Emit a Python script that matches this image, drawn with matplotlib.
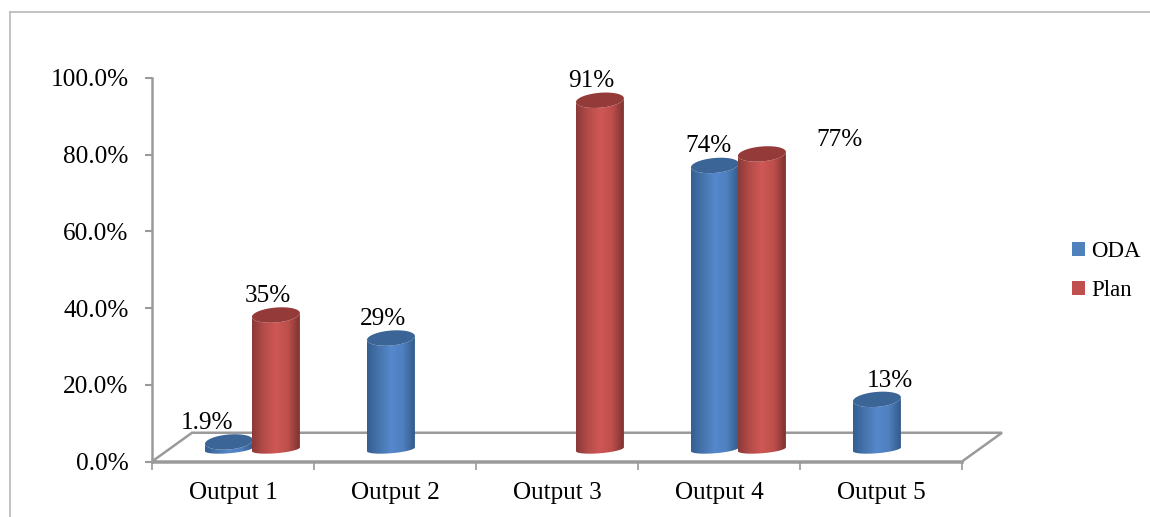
import numpy as np
import matplotlib
matplotlib.use("Agg")
import matplotlib.pyplot as plt
from matplotlib.colors import LinearSegmentedColormap
from matplotlib.lines import Line2D
from matplotlib.patches import PathPatch, Patch, Polygon
from matplotlib.path import Path

categories = ["Output 1", "Output 2", "Output 3", "Output 4", "Output 5"]
oda_values = [1.9, 29, None, 74, 13]
plan_values = [35, None, 91, 77, None]
oda_labels = ["1.9%", "29%", None, "74%", "13%"]
plan_labels = ["35%", None, "91%", "77%", None]
y_ticks = [0, 20, 40, 60, 80, 100]

plt.rcParams["font.family"] = ["Liberation Serif", "DejaVu Serif"]

W, H = 1150, 517
fig = plt.figure(figsize=(W / 100, H / 100), dpi=100, facecolor="white")
ax = fig.add_axes([152 / W, 1 - 461.5 / H, 810 / W, 383.5 / H])
ax.set_facecolor("none")
ax.set_xlim(0, 5)
ax.set_ylim(0, 100)

AXIS_GREY = "#9a9a9a"
FONT = 18.2

# Outer chart frame
fig.add_artist(Line2D([9.5 / W, 9.5 / W], [0, 1 - 11.5 / H], color="#b8b8b8", lw=1.2))
fig.add_artist(Line2D([9.5 / W, 1], [1 - 11.5 / H, 1 - 11.5 / H], color="#b8b8b8", lw=1.2))

# Axes and ticks
for side in ("top", "right"):
    ax.spines[side].set_visible(False)
for side in ("left", "bottom"):
    ax.spines[side].set_color(AXIS_GREY)
    ax.spines[side].set_linewidth(1.8)
ax.set_yticks(y_ticks)
ax.set_yticklabels([f"{t:.1f}%" for t in y_ticks], fontsize=FONT, color="black")
ax.set_xticks(range(6))
ax.set_xticklabels([])
ax.set_xticks([i + 0.5 for i in range(5)], minor=True)
ax.set_xticklabels(categories, minor=True, fontsize=FONT, color="black")
ax.tick_params(axis="y", length=5, width=1.5, color=AXIS_GREY, pad=12)
ax.tick_params(axis="x", which="major", length=6, width=1.2, color=AXIS_GREY)
ax.tick_params(axis="x", which="minor", length=0, pad=15)

# Slanted floor behind the columns
floor_dx, floor_dy = 0.247, 7.5
floor = Polygon(
    [(0, 0), (floor_dx, floor_dy), (5 + floor_dx, floor_dy), (5, 0)],
    closed=True, fill=False, edgecolor=AXIS_GREY, lw=1.8, clip_on=False, zorder=1,
)
ax.add_patch(floor)

# Column geometry
half_width = 0.148
base_level = 3.2
top_height = 1.95
top_tilt = 0.5
base_height = 1.05
base_tilt = 0.5
ODA_OFFSET, PLAN_OFFSET = 0.475, 0.765

blue_map = LinearSegmentedColormap.from_list(
    "blue_col", ["#335f92", "#4674ad", "#5588cc", "#4f80bf", "#325b8c"])
red_map = LinearSegmentedColormap.from_list(
    "red_col", ["#8a3a38", "#b54c49", "#cf5856", "#bd4f4c", "#7f3331"])


def rim(cx, cy, t, height, tilt):
    x = cx + half_width * np.cos(t)
    y = cy + height * np.sin(t) + tilt * np.cos(t)
    return x, y


def draw_column(cx, value, cmap, cap_color, z):
    top = base_level + value
    # Body outline: lower half of the base rim, then the far side of the top rim
    t_low = np.linspace(np.pi, 2 * np.pi, 40)
    x_low, y_low = rim(cx, base_level, t_low, base_height, base_tilt)
    t_up = np.linspace(0, -np.pi, 40)
    x_up, y_up = rim(cx, top, t_up, top_height, top_tilt)
    verts = np.column_stack([np.r_[x_low, x_up], np.r_[y_low, y_up]])
    verts = np.vstack([verts, verts[0]])
    body = PathPatch(Path(verts, closed=True), transform=ax.transData,
                     facecolor="none", edgecolor="none")
    ax.add_patch(body)
    gradient = np.linspace(0, 1, 128).reshape(1, -1)
    image = ax.imshow(
        gradient, cmap=cmap, aspect="auto", zorder=z, interpolation="bilinear",
        extent=(cx - half_width, cx + half_width, base_level - 3, top + 3),
    )
    image.set_clip_path(body)
    t_cap = np.linspace(0, 2 * np.pi, 80)
    x_cap, y_cap = rim(cx, top, t_cap, top_height, top_tilt)
    ax.fill(x_cap, y_cap, color=cap_color, lw=0, zorder=z + 0.1, clip_on=False)


for i in range(len(categories)):
    if oda_values[i] is not None:
        draw_column(i + ODA_OFFSET, oda_values[i], blue_map, "#3a6596", 3)
    if plan_values[i] is not None:
        draw_column(i + PLAN_OFFSET, plan_values[i], red_map, "#943b39", 4)

ax.set_xlim(0, 5)
ax.set_ylim(0, 100)

# Value labels; offsets are in points from the top of each column
oda_label_offsets = [(-16, 5.5), (-6, 6), None, (-5, 6), (9.5, 5.5)]
plan_label_offsets = [(-6, 6), None, (-6, 6), (56, 2), None]
for i in range(len(categories)):
    for off, vals, labs, offs in (
        (ODA_OFFSET, oda_values, oda_labels, oda_label_offsets),
        (PLAN_OFFSET, plan_values, plan_labels, plan_label_offsets),
    ):
        if vals[i] is not None:
            ax.annotate(labs[i], (i + off, vals[i] + base_level), xytext=offs[i],
                        textcoords="offset points", ha="center", va="bottom",
                        fontsize=FONT, color="black", zorder=6, annotation_clip=False)

# Legend
handles = [Patch(facecolor="#4f81bd", label="ODA"), Patch(facecolor="#c0504d", label="Plan")]
fig.legend(handles=handles, loc="center left", bbox_to_anchor=(1065 / W, 1 - 271 / H),
           frameon=False, fontsize=16.5, handlelength=0.57, handleheight=0.57,
           handletextpad=0.27, labelspacing=0.78, borderpad=0, borderaxespad=0.3)

fig.savefig("out.png", dpi=100, facecolor="white")
